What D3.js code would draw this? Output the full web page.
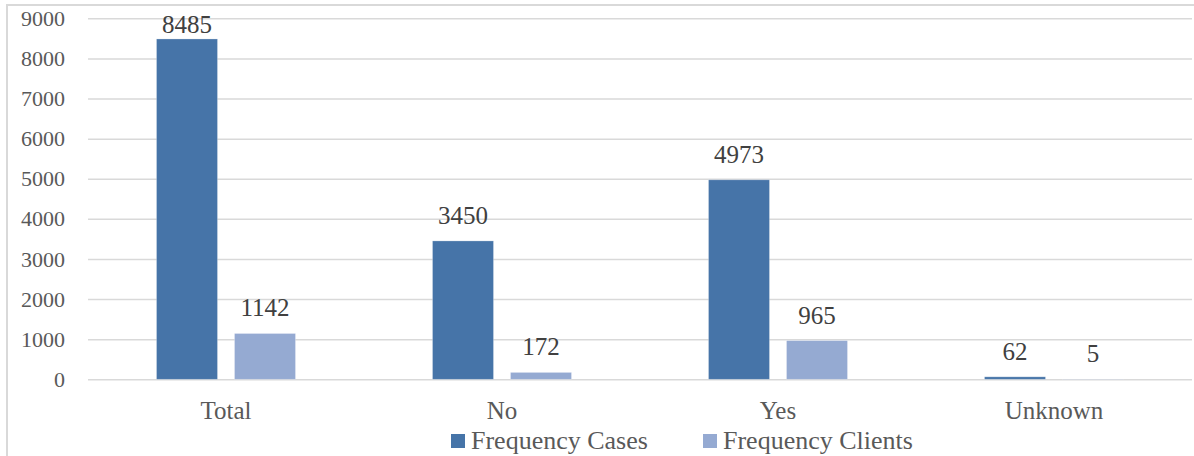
<!DOCTYPE html>
<html>
<head>
<meta charset="utf-8">
<script src="https://cdn.jsdelivr.net/npm/d3@7"></script>
<style>
  html, body { margin: 0; padding: 0; background: #fff; }
  svg { display: block; font-family: "Liberation Serif", "Times New Roman", serif; }
</style>
</head>
<body>
<svg id="chart" width="1194" height="456"></svg>
<script>
// Chart data
const categories = ["Total", "No", "Yes", "Unknown"];
const seriesNames = ["Frequency Cases", "Frequency Clients"];
const casesValues = [8485, 3450, 4973, 62];
const clientsValues = [1142, 172, 965, 5];
const yTicks = [0, 1000, 2000, 3000, 4000, 5000, 6000, 7000, 8000, 9000];

const colors = { "Frequency Cases": "#4674a8", "Frequency Clients": "#95aad2" };

const rows = categories.map((c, i) => ({
  category: c,
  values: [
    { series: seriesNames[0], value: casesValues[i] },
    { series: seriesNames[1], value: clientsValues[i] }
  ]
}));

const svg = d3.select("#chart");

// Outer frame (only top and left edges fall inside the page)
svg.append("rect")
  .attr("x", 7).attr("y", 5)
  .attr("width", 1300).attr("height", 600)
  .attr("fill", "none")
  .attr("stroke", "#d9d9d9")
  .attr("stroke-width", 2);

const plot = { left: 88, right: 1192, top: 18.3, bottom: 379.3 };

const x = d3.scaleBand()
  .domain(categories)
  .range([plot.left, plot.right])
  .paddingInner(0).paddingOuter(0);

const xInner = d3.scaleBand()
  .domain(seriesNames)
  .range([68.5, 207.5])
  .paddingInner(17 / 78)
  .paddingOuter(0);

const y = d3.scaleLinear()
  .domain([0, 9000])
  .range([plot.bottom, plot.top]);

// Gridlines and y tick labels
const yAxis = d3.axisLeft(y)
  .tickValues(yTicks)
  .tickSize(-(plot.right - plot.left))
  .tickPadding(23)
  .tickFormat(d3.format("d"));

const gy = svg.append("g")
  .attr("transform", `translate(${plot.left},0)`)
  .call(yAxis);
gy.select(".domain").remove();
gy.selectAll(".tick line")
  .attr("stroke", "#d9d9d9")
  .attr("stroke-width", 1.5);
gy.selectAll(".tick text")
  .attr("fill", "#595959")
  .style("font-size", "22px")
  .style("font-family", "'Liberation Serif', 'Times New Roman', serif");

// Category labels
const xAxis = d3.axisBottom(x).tickSize(0).tickPadding(0);
const gx = svg.append("g")
  .attr("transform", `translate(0,${plot.bottom})`)
  .call(xAxis);
gx.select(".domain").remove();
gx.selectAll(".tick text")
  .attr("fill", "#595959")
  .attr("dy", null)
  .attr("y", 40)
  .style("font-size", "25px")
  .style("font-family", "'Liberation Serif', 'Times New Roman', serif");

// Bars
const groups = svg.append("g").selectAll("g")
  .data(rows)
  .join("g")
  .attr("transform", d => `translate(${x(d.category)},0)`);

groups.selectAll("rect")
  .data(d => d.values)
  .join("rect")
  .attr("x", d => xInner(d.series))
  .attr("width", xInner.bandwidth())
  .attr("y", d => y(d.value))
  .attr("height", d => y(0) - y(d.value))
  .attr("fill", d => colors[d.series])
  .attr("stroke", "#ffffff")
  .attr("stroke-opacity", 0.35)
  .attr("stroke-width", 0.75);

// Value labels sit above each bar, kept inside the plot top
groups.selectAll("text.value")
  .data(d => d.values)
  .join("text")
  .attr("class", "value")
  .attr("x", d => xInner(d.series) + xInner.bandwidth() / 2)
  .attr("y", d => Math.max(y(d.value) - 17, 33))
  .attr("text-anchor", "middle")
  .attr("fill", "#404040")
  .style("font-size", "25px")
  .text(d => d.value);

// Legend
const legendItems = [
  { name: seriesNames[0], x: 451 },
  { name: seriesNames[1], x: 703 }
];
const legend = svg.append("g").selectAll("g")
  .data(legendItems)
  .join("g")
  .attr("transform", d => `translate(${d.x},434)`);
legend.append("rect")
  .attr("width", 14).attr("height", 14)
  .attr("fill", d => colors[d.name]);
legend.append("text")
  .attr("x", 20)
  .attr("y", 15.3)
  .attr("fill", "#595959")
  .style("font-size", "26px")
  .text(d => d.name);
</script>
</body>
</html>
